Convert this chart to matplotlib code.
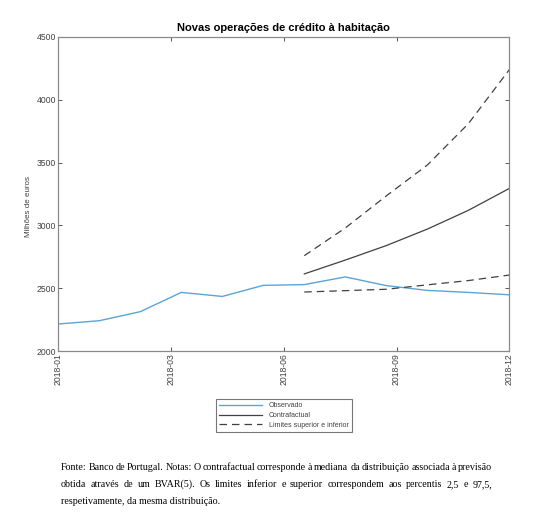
import numpy as np
import matplotlib
matplotlib.use("Agg")
from matplotlib import pyplot as plt

# monthly data, Jan-Dec 2018 (index 0..11)
months = np.arange(12)
observado = [2217, 2243, 2315, 2468, 2436, 2524, 2530, 2591, 2522, 2484, 2468, 2449]
cf_months = np.arange(6, 12)
contrafactual = [2615, 2725, 2840, 2971, 3120, 3294]
limite_sup = [2760, 2980, 3235, 3480, 3808, 4238]
limite_inf = [2471, 2482, 2493, 2528, 2562, 2606]

xtick_pos = [0, 2.75, 5.5, 8.25, 11]
xtick_labels = ["2018-01", "2018-03", "2018-06", "2018-09", "2018-12"]
yticks = [2000, 2500, 3000, 3500, 4000, 4500]

footnote = [
    "Fonte: Banco de Portugal. Notas: O contrafactual corresponde à mediana da distribuição associada à previsão",
    "obtida através de um BVAR(5). Os limites inferior e superior correspondem aos percentis 2,5 e 97,5,",
    "respetivamente, da mesma distribuição.",
]

plt.rcParams['font.family'] = ['Liberation Sans', 'DejaVu Sans']

W, H = 551, 522
fig = plt.figure(figsize=(W / 100, H / 100), dpi=100)
ax = fig.add_axes([58.3 / W, 1 - 351.3 / H, (509.3 - 58.3) / W, (351.3 - 36.7) / H])

ax.plot(months, observado, color='#5ba4d6', lw=1.0, label='Observado')
ax.plot(cf_months, contrafactual, color='#404040', lw=0.9, label='Contrafactual')
ax.plot(cf_months, limite_sup, color='#404040', lw=0.9, ls=(0, (6, 4)),
        label='Limites superior e inferior')
ax.plot(cf_months, limite_inf, color='#404040', lw=0.9, ls=(0, (6, 4)))

ax.set_xlim(0, 11)
ax.set_ylim(2000, 4500)
ax.set_xticks(xtick_pos)
ax.set_xticklabels(xtick_labels, rotation=90)
ax.set_yticks(yticks)
ax.tick_params(direction='in', length=3, width=0.7, color='#555555',
               labelsize=6.2, labelcolor='#404040', top=True, right=True, pad=1.5)
for s in ax.spines.values():
    s.set_color('#8a8a8a')
    s.set_linewidth(0.9)

ax.set_title('Novas operações de crédito à habitação', fontsize=8,
             fontweight='bold', pad=4)
ax.set_ylabel('Milhões de euros', fontsize=5.8, color='#404040')
ax.yaxis.set_label_coords(-0.059, 0.46)

leg = fig.legend(loc='center', bbox_to_anchor=(284 / W, 1 - 415.5 / H),
                 fontsize=5, frameon=True, fancybox=False, edgecolor='#555555',
                 handlelength=6.2, handletextpad=0.9, borderpad=0.5,
                 labelspacing=0.4, borderaxespad=0)
leg.get_frame().set_linewidth(0.8)
for t in leg.get_texts():
    t.set_color('#404040')

# justified footnote (baseline aligned)
fig.canvas.draw()
renderer = fig.canvas.get_renderer()
x0, x1 = 61 / W, 492 / W
ys = [470, 487, 504]
fs = 7.2
for i, line in enumerate(footnote):
    y = 1 - ys[i] / H
    words = line.split(' ')
    if i == len(footnote) - 1:
        fig.text(x0, y, line, fontsize=fs, family='Liberation Serif', va='baseline')
        continue
    widths = []
    for w in words:
        t = fig.text(0, 0, w, fontsize=fs, family='Liberation Serif')
        widths.append(t.get_window_extent(renderer).width / W)
        t.remove()
    gap = (x1 - x0 - sum(widths)) / (len(words) - 1)
    x = x0
    for w, wd in zip(words, widths):
        fig.text(x, y, w, fontsize=fs, family='Liberation Serif', va='baseline')
        x += wd + gap

fig.savefig('out.png', dpi=100)
